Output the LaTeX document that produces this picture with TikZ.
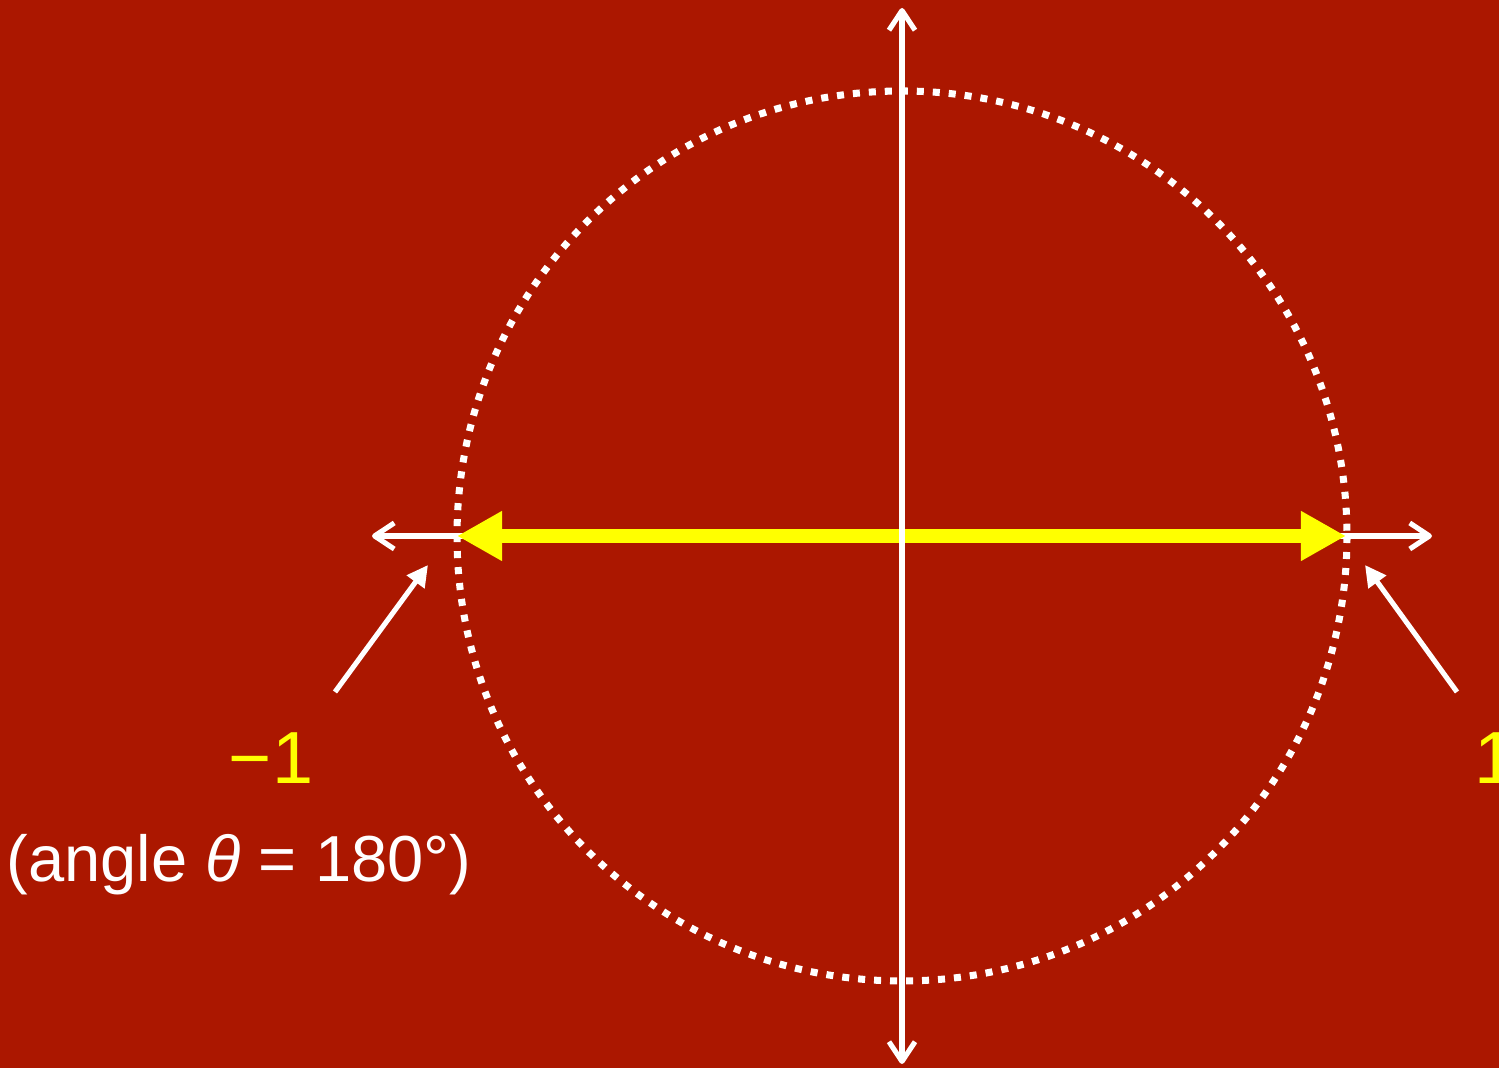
\documentclass[tikz,border=0pt]{standalone}
\usepackage{fontspec}
\setmainfont{Liberation Sans}
\usetikzlibrary{arrows.meta}
\definecolor{unitBg}{HTML}{AB1700}
\definecolor{unitYellow}{HTML}{FFFF00}

\begin{document}
\begin{tikzpicture}[x=0.01cm, y=-0.01cm,
  axis/.style={draw=white, line width=1.45pt, line cap=round,
               {Straight Barb[length=5.6pt, width=7.4pt, line join=round]}-{Straight Barb[length=5.6pt, width=7.4pt, line join=round]}},
  unitcirc/.style={draw=white, line width=2pt, dash pattern=on 2pt off 2.55pt},
  span/.style={draw=unitYellow, line width=4.25pt,
               {Triangle[length=12.8pt, width=13.3pt]}-{Triangle[length=12.8pt, width=13.3pt]}},
  pointer/.style={draw=white, line width=1.45pt, -{Triangle[length=6pt, width=6pt]}},
  numlbl/.style={text=unitYellow, font=\fontsize{21}{25}\selectfont, inner sep=0pt},
  anglbl/.style={text=white, font=\fontsize{18.5}{22}\selectfont, inner sep=0pt},
]
% --- background ---
\fill[unitBg] (0,0) rectangle (1499,1068);
\useasboundingbox (0,0) rectangle (1499,1068);

% --- end points ---
\coordinate (o)     at (902,536);
\coordinate (ytop)  at (902,8);
\coordinate (ybot)  at (902,1064);
\coordinate (xlft)  at (372,536);
\coordinate (xrgt)  at (1432,536);
\coordinate (mone)  at (457,536);
\coordinate (pone)  at (1346,536);
\coordinate (ptlft) at (335,692);
\coordinate (tiplft) at (428,565);
\coordinate (ptrgt) at (1457,692);
\coordinate (tiprgt) at (1365,565);

% --- unit circle ---
\draw[unitcirc] (o) circle (445);

% --- axes and the yellow span ---
\draw[axis] (xlft) -- (xrgt);
\draw[span] (mone) -- (pone);
\draw[axis] (ybot) -- (ytop);

% --- labels ---
\node[numlbl, anchor=base] (lblm) at (271,784) {−1};
\node[numlbl, anchor=base west] (lblp) at (1474,784) {1};
\node[anglbl, anchor=base] (lblang) at (239,882) {(angle \textit{θ} = 180°)};

\draw[pointer] (ptlft) -- (tiplft);
\draw[pointer] (ptrgt) -- (tiprgt);
\end{tikzpicture}
\end{document}
